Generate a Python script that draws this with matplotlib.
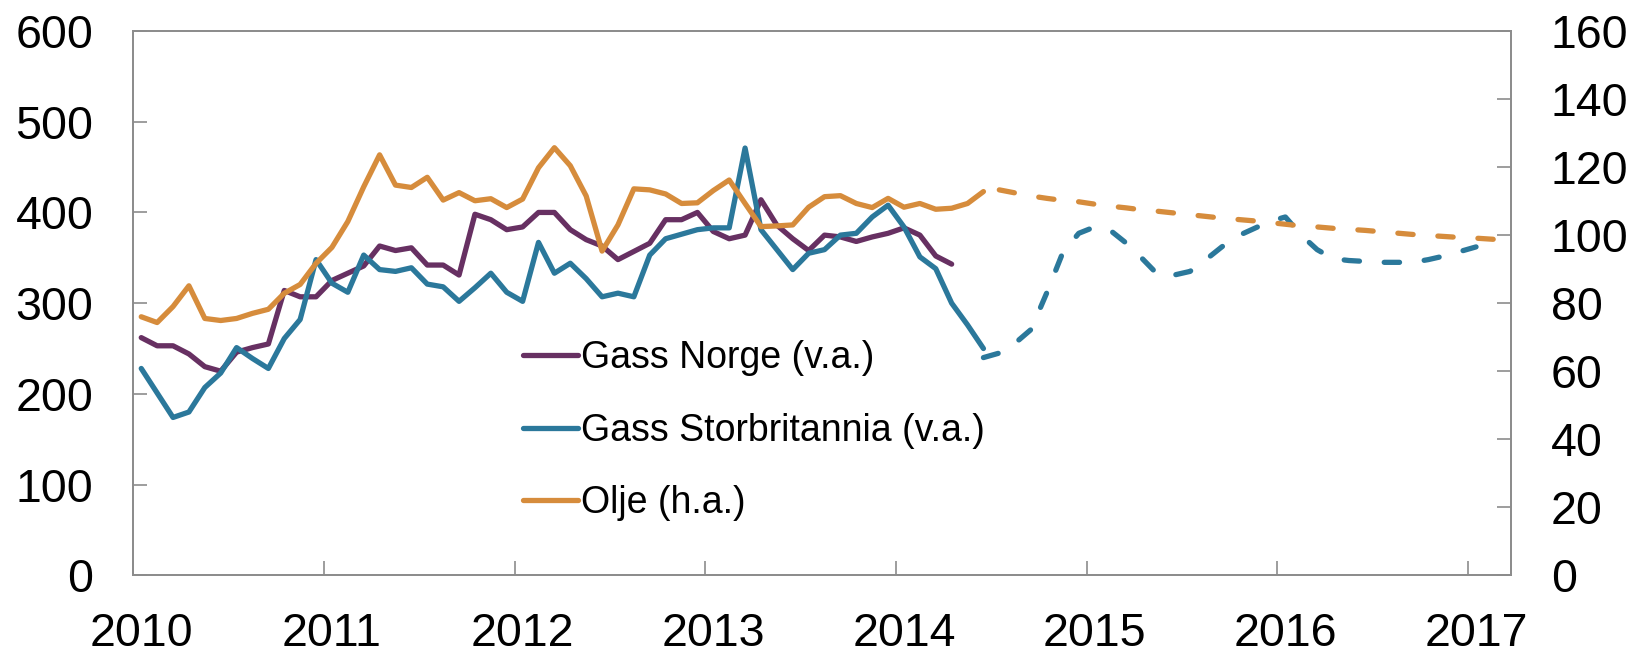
import numpy as np
import matplotlib
matplotlib.use("Agg")
import matplotlib.pyplot as plt
from matplotlib.lines import Line2D

plt.rcParams['font.family'] = ['Liberation Sans', 'DejaVu Sans']

# ---------------- data (monthly, first value = Jan 2010) ----------------
hist_start = (2010, 1)
gass_norge = [262, 253, 253, 244, 230, 225, 246, 251, 255, 314, 307, 307,
              325, 333, 341, 363, 358, 361, 342, 342, 331, 398, 392, 381,
              384, 400, 400, 381, 370, 363, 348, 357, 366, 392, 392, 400,
              379, 371, 375, 414, 386, 371, 358, 375, 373, 368, 373, 377,
              383, 375, 352, 343]
gass_uk = [228, 201, 174, 180, 207, 223, 251, 239, 228, 261, 282, 348,
           322, 312, 353, 337, 335, 339, 321, 318, 302, 317, 333, 312,
           302, 367, 333, 344, 327, 307, 311, 307, 353, 371, 376, 381,
           383, 383, 471, 381, 359, 337, 355, 359, 375, 377, 395, 408,
           384, 351, 338, 300, 276, 250]
olje = [76.0, 74.3, 79.0, 85.1, 75.5, 74.9, 75.5, 77.0, 78.2, 82.9, 85.5, 91.7,
        96.4, 104.0, 114.2, 123.6, 114.7, 114.0, 117.0, 110.3, 112.5, 110.1, 110.7, 108.1,
        110.6, 119.8, 125.7, 120.4, 111.5, 95.3, 103.0, 113.6, 113.3, 112.1, 109.3, 109.5,
        113.1, 116.2, 109.3, 102.5, 102.7, 103.0, 108.2, 111.3, 111.6, 109.3, 108.1, 110.8,
        108.2, 109.3, 107.6, 107.9, 109.3, 112.8]

# forward prices (dashed)
uk_fwd_start = (2014, 6)
gass_uk_fwd = [240, 245, 256, 271, 312, 356, 377, 384, 380, 366, 349, 331,
               331, 335, 348, 362, 374, 382, 390, 395, 375, 359, 349, 347,
               346, 345, 345, 345, 348, 352, 357, 362]
olje_fwd_start = (2014, 7)
olje_fwd = [113.3, 112.4, 111.5, 110.8, 110.2, 109.8, 109.1, 108.5, 108.0, 107.4,
            107.0, 106.5, 106.0, 105.5, 105.0, 104.6, 104.2, 103.7, 103.2, 102.7,
            102.4, 102.0, 101.7, 101.4, 101.0, 100.6, 100.2, 99.9, 99.6, 99.3,
            99.1, 98.8, 98.5]

years = [2010, 2011, 2012, 2013, 2014, 2015, 2016, 2017]
left_ticks = [0, 100, 200, 300, 400, 500, 600]
right_ticks = [0, 20, 40, 60, 80, 100, 120, 140, 160]
labels = ['Gass Norge (v.a.)', 'Gass Storbritannia (v.a.)', 'Olje (h.a.)']

# ---------------- helpers ----------------
def month_x(start, n):
    y, m = start
    idx = np.arange(n) + (m - 1)
    return y + (idx + 0.5) / 12.0

c_purple = '#673062'
c_blue = '#2b789b'
c_orange = '#d68c3c'
grey = '#8c8c8c'
lw = 3.8
dash = (0, (2.9, 4.7))

fig = plt.figure(figsize=(16.36, 6.5), dpi=100)
ax = fig.add_axes([0.08148, 0.11492, 0.84211, 0.83738])
ax2 = ax.twinx()

ax.plot(month_x(hist_start, len(gass_norge)), gass_norge, color=c_purple, lw=lw,
        solid_capstyle='round')
ax.plot(month_x(hist_start, len(gass_uk)), gass_uk, color=c_blue, lw=lw,
        solid_capstyle='round')
ax.plot(month_x(uk_fwd_start, len(gass_uk_fwd)), gass_uk_fwd, color=c_blue, lw=lw,
        linestyle=dash, dash_capstyle='round')
ax2.plot(month_x(hist_start, len(olje)), olje, color=c_orange, lw=lw,
         solid_capstyle='round')
ax2.plot(month_x(olje_fwd_start, len(olje_fwd)), olje_fwd, color=c_orange, lw=lw,
         linestyle=dash, dash_capstyle='round')

ax.set_xlim(2010, 2017.225)
ax.set_ylim(0, 600)
ax2.set_ylim(0, 160)

# x ticks: marks at year boundaries, labels centred on January
ax.set_xticks(years)
ax.set_xticklabels([''] * len(years))
ax.set_xticks([y + 0.5 / 12 for y in years], minor=True)
ax.set_xticklabels([str(y) for y in years], minor=True)
ax.tick_params(axis='x', which='major', direction='in', length=10, width=1.2,
               color=grey)
ax.tick_params(axis='x', which='minor', length=0, pad=26.5, labelsize=33.5)

ax.set_yticks(left_ticks)
ax2.set_yticks(right_ticks)
ax.tick_params(axis='y', direction='in', length=10, width=1.2, color=grey,
               pad=28.8, labelsize=33.5)
ax2.tick_params(axis='y', direction='in', length=10, width=1.2, color=grey,
                pad=28.8, labelsize=33.5)

for a in (ax, ax2):
    for s in a.spines.values():
        s.set_color(grey)
        s.set_linewidth(1.3)

handles = [Line2D([], [], color=c, lw=lw, solid_capstyle='round')
           for c in (c_purple, c_blue, c_orange)]
ax2.legend(handles, labels, loc='upper left', bbox_to_anchor=(0.2831, 0.4316),
           frameon=False, fontsize=27, handlelength=1.45, handletextpad=0.1,
           labelspacing=0.97, borderpad=0, borderaxespad=0)

fig.savefig('out.png', dpi=100)
